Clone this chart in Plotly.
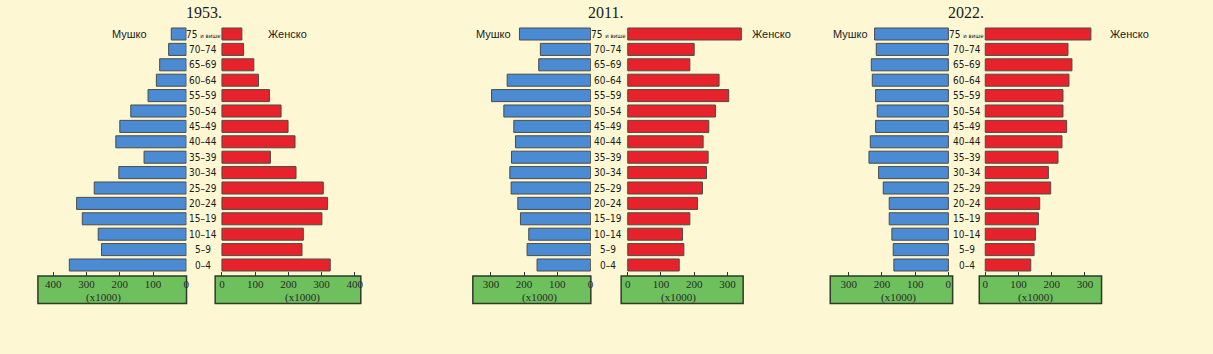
import plotly.graph_objects as go

W, H = 1213, 354

age_groups = ["0–4", "5–9", "10–14", "15–19", "20–24", "25–29", "30–34", "35–39",
              "40–44", "45–49", "50–54", "55–59", "60–64", "65–69", "70–74", "75 и више"]

years = ["1953.", "2011.", "2022."]

# values in thousands, ordered from 0–4 up to 75+
male_1953 = [352, 255, 265, 313, 330, 277, 203, 127, 212, 200, 167, 115, 90, 80, 53, 45]
female_1953 = [326, 241, 245, 301, 318, 305, 223, 146, 220, 199, 178, 143, 110, 96, 65, 60]
male_2011 = [161, 191, 186, 211, 219, 239, 243, 238, 226, 231, 261, 298, 251, 156, 151, 214]
female_2011 = [155, 169, 165, 187, 210, 225, 237, 242, 227, 244, 264, 304, 275, 187, 200, 342]
male_2022 = [164, 166, 170, 178, 178, 196, 210, 239, 235, 219, 214, 219, 229, 232, 217, 222]
female_2022 = [137, 147, 151, 160, 164, 197, 190, 219, 231, 245, 234, 234, 252, 261, 249, 318]

male_ticks = [[400, 300, 200, 100, 0], [300, 200, 100, 0], [300, 200, 100, 0]]
female_ticks = [[0, 100, 200, 300, 400], [0, 100, 200, 300], [0, 100, 200, 300]]

male_label = "Мушко"
female_label = "Женско"
unit_label = "(x1000)"

BG = "#FDF8D3"
BLUE = "#4A8BD3"
RED = "#E8222A"
GREEN = "#6DC05B"
EDGE = "#4a4a4a"

S = 0.333  # px per unit
# pixel geometry per panel: (box_left, box_right, zero)
male_geo = [(38, 187, 186.7), (474, 592.3, 592), (832.3, 955, 950.7)]
female_geo = [(215.7, 361.7, 222.5), (622.7, 745, 629.3), (981.7, 1104.3, 987.7)]
title_x = [205, 607, 968]
age_x = [204, 610, 969]
male_lbl_x = [130, 495, 853]
female_lbl_x = [288, 773, 1132]
unit_x_m = [104, 541, 901]
unit_x_f = [303, 680, 1038]

Y_TOP, Y_BOT = 26.3, 272.7
BOX_TOP, BOX_BOT = 276, 303.5

def px(x):
    return x / W

def py(y):
    return 1 - y / H

males = [male_1953, male_2011, male_2022]
females = [female_1953, female_2011, female_2022]

fig = go.Figure()
layout = dict(
    width=W, height=H,
    margin=dict(l=0, r=0, t=0, b=0),
    paper_bgcolor=BG, plot_bgcolor="rgba(0,0,0,0)",
    showlegend=False,
    bargap=0.22,
    yaxis=dict(domain=[py(Y_BOT), py(Y_TOP)], range=[-0.5, 15.5], type="category",
               categoryorder="array", categoryarray=age_groups, visible=False,
               anchor="x"),
)
shapes = []
annotations = []
tick_font = dict(family="Liberation Serif, Times New Roman, serif", size=11, color="#2a2a2a")

ax_idx = 0
for p in range(3):
    for side in ("m", "f"):
        ax_idx += 1
        xname = "x" if ax_idx == 1 else f"x{ax_idx}"
        lname = "xaxis" if ax_idx == 1 else f"xaxis{ax_idx}"
        if side == "m":
            left, right, zero = male_geo[p]
            rng = [(zero - left) / S, (zero - right) / S]
            vals = males[p]
            color = BLUE
            ticks = male_ticks[p]
        else:
            left, right, zero = female_geo[p]
            rng = [(left - zero) / S, (right - zero) / S]
            vals = females[p]
            color = RED
            ticks = female_ticks[p]
        fig.add_trace(go.Bar(
            x=vals, y=age_groups, orientation="h", xaxis=xname, yaxis="y",
            marker=dict(color=color, line=dict(color=EDGE, width=1)),
        ))
        layout[lname] = dict(
            domain=[px(left), px(right)], range=rng, anchor="free",
            position=py(BOX_TOP), showgrid=False, zeroline=False,
            showline=False, ticks="inside", ticklen=4, tickcolor="#333",
            tickvals=ticks, ticktext=[str(t) for t in ticks],
            tickfont=tick_font, ticklabelstandoff=0,
        )
        shapes.append(dict(type="rect", xref="paper", yref="paper",
                           x0=px(left), x1=px(right), y0=py(BOX_BOT), y1=py(BOX_TOP),
                           fillcolor=GREEN, line=dict(color="#2f3a2a", width=1.5),
                           layer="below"))
        annotations.append(dict(
            x=px(unit_x_m[p] if side == "m" else unit_x_f[p]), y=py(297),
            xref="paper", yref="paper", text=unit_label, showarrow=False,
            font=tick_font, xanchor="center", yanchor="middle"))

    annotations.append(dict(x=px(title_x[p]), y=py(12), xref="paper", yref="paper",
                            text=years[p], showarrow=False,
                            font=dict(family="Liberation Serif, Times New Roman, serif",
                                      size=16, color="#1a1a1a"),
                            xanchor="center", yanchor="middle"))
    annotations.append(dict(x=px(male_lbl_x[p]), y=py(34), xref="paper", yref="paper",
                            text=male_label, showarrow=False,
                            font=dict(family="Liberation Sans, Arial, sans-serif",
                                      size=11, color="#1a1a1a"),
                            xanchor="center", yanchor="middle"))
    annotations.append(dict(x=px(female_lbl_x[p]), y=py(34), xref="paper", yref="paper",
                            text=female_label, showarrow=False,
                            font=dict(family="Liberation Sans, Arial, sans-serif",
                                      size=11, color="#1a1a1a"),
                            xanchor="center", yanchor="middle"))
    for g in age_groups:
        txt = g
        if g.startswith("75"):
            txt = "75 <span style='font-size:6px'>и више</span>"
        annotations.append(dict(x=px(age_x[p]), y=g, xref="paper", yref="y",
                                text=txt, showarrow=False,
                                font=dict(family="DejaVu Sans Condensed, Liberation Sans Narrow, sans-serif",
                                          size=10, color="#1a1a1a"),
                                xanchor="center", yanchor="middle"))

layout["shapes"] = shapes
layout["annotations"] = annotations
fig.update_layout(**layout)
fig.write_html("out.html")
